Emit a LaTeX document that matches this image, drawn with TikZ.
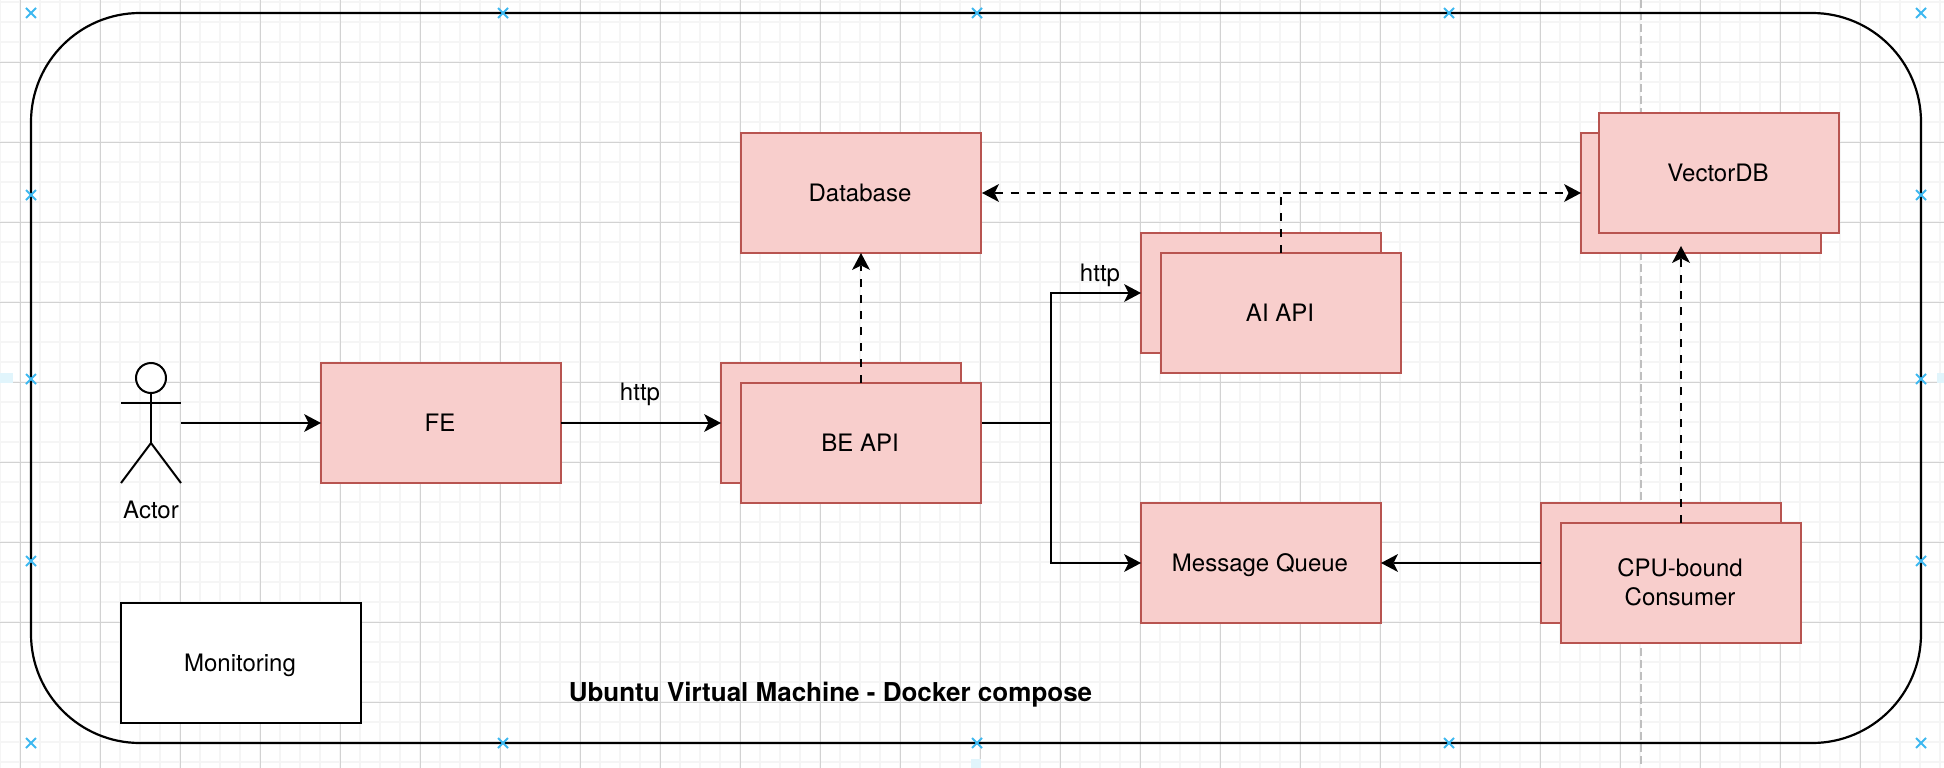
\documentclass[tikz,border=0pt]{standalone}
\usepackage{fontspec}
\setmainfont{TeX Gyre Heros}
\usetikzlibrary{arrows.meta}
\definecolor{boxfill}{HTML}{F8CECC}
\definecolor{boxline}{HTML}{B85450}
\definecolor{gridmajor}{HTML}{D2D2D2}
\definecolor{gridminor}{HTML}{F5F5F5}
\definecolor{crossblue}{HTML}{3DB8F0}
\definecolor{tabblue}{HTML}{E1F5FC}
\tikzset{
  x=1pt,y=-1pt,
  every node/.style={font=\fontsize{24}{29}\selectfont,inner sep=0pt,outer sep=0pt},
  svc/.style={draw=boxline,fill=boxfill,line width=2.2pt,minimum width=240pt,minimum height=120pt,text height=16pt,text depth=0pt,execute at begin node=\kern-2pt},
  svcempty/.style={draw=boxline,fill=boxfill,line width=2.2pt,minimum width=240pt,minimum height=120pt},
  plainbox/.style={draw=black,fill=white,line width=2.2pt,minimum width=240pt,minimum height=120pt,text height=16pt,text depth=0pt,execute at begin node=\kern-2pt},
  vmframe/.style={draw=black,line width=2.2pt,rounded corners=109pt,minimum width=1890pt,minimum height=730pt},
  label/.style={anchor=base},
  conn/.style={draw=black,line width=2.2pt,-{Stealth[length=17pt,width=18pt,inset=4.5pt,line width=0pt]}},
  connplain/.style={draw=black,line width=2.2pt},
  dashconn/.style={conn,dash pattern=on 8pt off 8pt},
  figure/.style={draw=black,line width=2pt},
  bluex/.style={draw=crossblue,line width=2pt},
  guide/.style={draw=gray!50,line width=2pt,dash pattern=on 8pt off 4pt},
}
\begin{document}
\begin{tikzpicture}
\useasboundingbox (0,0) rectangle (1944,768);
\fill[white] (0,0) rectangle (1944,768);
% grid
\foreach \gx in {0,20,...,1940} \draw[gridminor,line width=2pt] (\gx,0) -- (\gx,768);
\foreach \gy in {2,22,...,762} \draw[gridminor,line width=2pt] (0,\gy) -- (1944,\gy);
\foreach \gx in {20.5,100.5,...,1940} \draw[gridmajor,line width=1pt] (\gx,0) -- (\gx,768);
\foreach \gy in {62.5,142.5,...,760} \draw[gridmajor,line width=1pt] (0,\gy) -- (1944,\gy);
\fill[tabblue] (0,373) rectangle (13,383);
\fill[tabblue] (1937,373) rectangle (1944,383);
\fill[tabblue] (971,759) rectangle (981,768);
\draw[guide] (1641,0) -- (1641,768);
% frame
\node[vmframe] (vm) at (976,378) {};
\node[label,font=\fontsize{26}{31}\selectfont\bfseries] (title) at (830.5,701) {Ubuntu Virtual Machine - Docker compose};
% actor
\node[figure,circle,fill=white,minimum size=30pt] (head) at (151,378) {};
\coordinate (neck) at (151,403);
\coordinate (hip) at (151,443);
\coordinate (handl) at (121,403);
\coordinate (handr) at (181,403);
\coordinate (footl) at (121,483);
\coordinate (footr) at (181,483);
\coordinate (actorout) at (181,423);
\draw[figure] (head.south) -- (hip);
\draw[figure] (handl) -- (handr);
\draw[figure] (footl) -- (hip) -- (footr);
\node[label] (actorlabel) at (151,518) {Actor};
% boxes behind
\node[plainbox] (mon) at (241,663) {Monitoring};
\node[svc] (fe) at (441,423) {FE};
\node[svc] (db) at (861,193) {Database};
\node[svcempty] (beback) at (841,423) {};
\node[svcempty] (aiback) at (1261,293) {};
\node[svc] (mq) at (1261,563) {Message Queue};
\node[svcempty] (cpuback) at (1661,563) {};
\node[svcempty] (vecback) at (1701,193) {};
\coordinate (junction) at (1051,423);
\coordinate (vectip) at (1681,246);
% connectors
\draw[conn] (actorout) -- (fe.west);
\draw[conn] (fe.east) -- (beback.west);
\draw[connplain] (beback.east) -- (junction);
\draw[conn] (junction) |- (aiback.west);
\draw[conn] (junction) |- (mq.west);
\draw[conn] (cpuback.west) -- (mq.east);
\node[label] (http1) at (640,400) {http};
\node[label] (http2) at (1100,281) {http};
% boxes in front
\node[svc] (be) at (861,443) {BE API};
\node[svc] (ai) at (1281,313) {AI API};
\node[svc] (vec) at (1719,173) {VectorDB};
\node[svcempty] (cpu) at (1681,583) {};
\node[align=center] (cpulabel) at (1680,581.8) {CPU-bound\\Consumer};
% dashed connectors (start at the top edges of the front boxes)
\draw[dashconn] (be.north) -- (db.south);
\draw[dashconn,{Stealth[length=17pt,width=18pt,inset=4.5pt,line width=0pt]}-{Stealth[length=17pt,width=18pt,inset=4.5pt,line width=0pt]},shorten <=1pt] (db.east) -- (vecback.west);
\draw[connplain,dash pattern=on 8pt off 8pt] (ai.north) -- (ai.north |- db.east);
\draw[dashconn] (cpu.north) -- (vectip);
% markers
\foreach \mx in {31,503,977,1449,1921} \foreach \my in {13,743}
  \draw[bluex] (\mx-5,\my-5) -- (\mx+5,\my+5) (\mx-5,\my+5) -- (\mx+5,\my-5);
\foreach \mx in {31,1921} \foreach \my in {195,379,561}
  \draw[bluex] (\mx-5,\my-5) -- (\mx+5,\my+5) (\mx-5,\my+5) -- (\mx+5,\my-5);
\end{tikzpicture}
\end{document}
